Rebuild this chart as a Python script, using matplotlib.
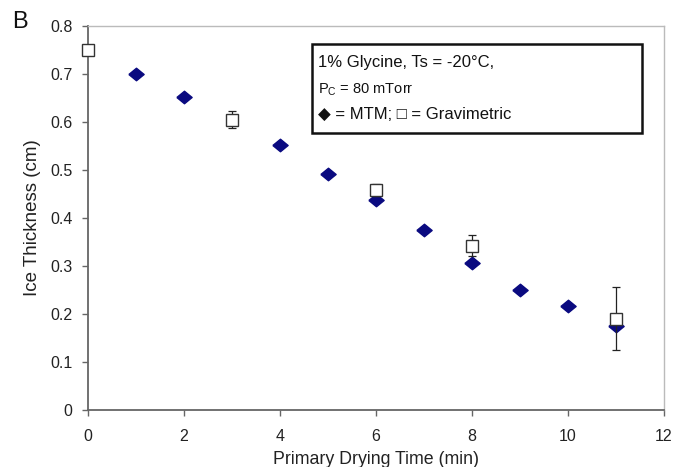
import matplotlib
matplotlib.use("Agg")
import matplotlib.pyplot as plt
from matplotlib.patches import Rectangle

plt.rcParams['font.family'] = ['Liberation Sans', 'DejaVu Sans']

# Data
mtm_time = [1, 2, 4, 5, 6, 7, 8, 9, 10, 11]
mtm_thick = [0.700, 0.652, 0.552, 0.492, 0.437, 0.376, 0.307, 0.250, 0.217, 0.175]
grav_time = [0, 3, 6, 8, 11]
grav_thick = [0.750, 0.605, 0.458, 0.342, 0.190]
grav_err = [0.0, 0.017, 0.013, 0.022, 0.066]

xticks = [0, 2, 4, 6, 8, 10, 12]
yticks = [0, 0.1, 0.2, 0.3, 0.4, 0.5, 0.6, 0.7, 0.8]
ytick_labels = ['0', '0.1', '0.2', '0.3', '0.4', '0.5', '0.6', '0.7', '0.8']

fig = plt.figure(figsize=(6.75, 4.67), dpi=100)
ax = fig.add_axes([88/675, 57/467, (664-88)/675, (410-26)/467])

diamond = [(-1, 0), (0, 0.82), (1, 0), (0, -0.82), (-1, 0)]
ax.plot(mtm_time, mtm_thick, linestyle='none', marker=diamond, markersize=11,
        color='#0a0a80', markeredgecolor='#0a0a80', zorder=3)

ax.errorbar(grav_time, grav_thick, yerr=grav_err, fmt='none', ecolor='#222222',
            elinewidth=0.9, capsize=3.2, capthick=0.9, zorder=4)
ax.plot(grav_time, grav_thick, linestyle='none', marker='s', markersize=8.5,
        markerfacecolor='white', markeredgecolor='#333333', markeredgewidth=1.0,
        zorder=5, clip_on=False)

ax.set_xlim(0, 12)
ax.set_ylim(0, 0.8)
ax.set_xticks(xticks)
ax.set_xticklabels([str(t) for t in xticks])
ax.set_yticks(yticks)
ax.set_yticklabels(ytick_labels)

for side in ['left', 'bottom']:
    ax.spines[side].set_color('#666666')
    ax.spines[side].set_linewidth(1.3)
for side in ['top', 'right']:
    ax.spines[side].set_color('#bbbbbb')
    ax.spines[side].set_linewidth(1.0)

ax.tick_params(axis='both', direction='out', length=4, width=1, color='#666666',
               labelsize=11.5, labelcolor='#222222')
ax.tick_params(axis='x', pad=10)
ax.tick_params(axis='y', pad=7)

ax.set_xlabel('Primary Drying Time (min)', fontsize=12.8, color='#222222', labelpad=5)
ax.set_ylabel('Ice Thickness (cm)', fontsize=13.5, color='#222222', labelpad=7)

fig.text(20/675, 1 - 22/467, 'B', fontsize=17, color='#111111', va='center', ha='center')

# Legend box
box = Rectangle((312/675, 1 - 133/467), (642-312)/675, (133-44)/467,
                transform=fig.transFigure, facecolor='white', edgecolor='#111111',
                linewidth=1.8, zorder=6)
fig.add_artist(box)
fig.text(318/675, 1 - 63/467, '1% Glycine, Ts = -20°C,', fontsize=12,
         color='#111111', va='center', ha='left', zorder=7)
fig.text(318/675, 1 - 90/467, r'P$_\mathregular{C}$ = 80 mTorr', fontsize=10.5,
         color='#111111', va='center', ha='left', zorder=7)
fig.text(318/675, 1 - 114/467, '◆ = MTM; □ = Gravimetric', fontsize=12,
         color='#111111', va='center', ha='left', zorder=7,
         family=['Liberation Sans', 'DejaVu Sans'])

fig.savefig('out.png', dpi=100)
